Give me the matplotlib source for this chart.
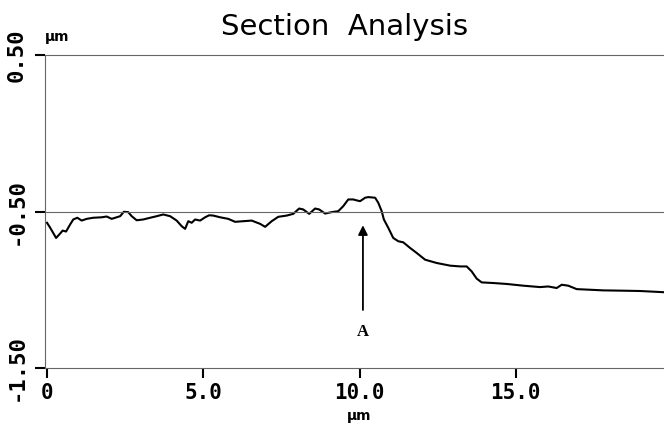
import matplotlib
matplotlib.use("Agg")
import matplotlib.pyplot as plt

# Section profile (x in um, height in um)
profile_x = [0.00, 0.10, 0.29, 0.42, 0.50, 0.61, 0.74, 0.84, 0.97, 1.11,
             1.27, 1.48, 1.75, 1.91, 2.07, 2.34, 2.46, 2.60, 2.71, 2.87,
             3.08, 3.30, 3.51, 3.72, 3.94, 4.15, 4.31, 4.42, 4.52, 4.63,
             4.74, 4.90, 5.06, 5.19, 5.32, 5.54, 5.80, 6.02, 6.28, 6.55,
             6.82, 6.98, 7.19, 7.40, 7.67, 7.88, 8.07, 8.20, 8.39, 8.58,
             8.71, 8.90, 9.11, 9.32, 9.48, 9.64, 9.80, 9.91, 10.02, 10.18,
             10.28, 10.50, 10.60, 10.71, 10.78, 10.92, 11.08, 11.24, 11.40, 11.62,
             11.83, 12.10, 12.47, 12.90, 13.22, 13.43, 13.59, 13.75, 13.91, 14.28,
             14.71, 15.24, 15.78, 16.04, 16.31, 16.47, 16.68, 16.95, 17.38, 17.80,
             18.44, 18.98, 19.67, 19.75]
profile_y = [-0.572, -0.603, -0.669, -0.641, -0.622, -0.628, -0.583, -0.551, -0.540, -0.558,
             -0.547, -0.540, -0.537, -0.532, -0.547, -0.530, -0.502, -0.504, -0.530, -0.556,
             -0.551, -0.540, -0.530, -0.519, -0.530, -0.558, -0.594, -0.611, -0.562, -0.572,
             -0.551, -0.558, -0.537, -0.524, -0.526, -0.537, -0.547, -0.566, -0.562, -0.558,
             -0.579, -0.598, -0.562, -0.534, -0.526, -0.515, -0.481, -0.487, -0.515, -0.481,
             -0.487, -0.513, -0.504, -0.498, -0.466, -0.423, -0.423, -0.429, -0.434, -0.412,
             -0.408, -0.412, -0.444, -0.498, -0.551, -0.604, -0.669, -0.690, -0.697, -0.733,
             -0.765, -0.808, -0.829, -0.846, -0.851, -0.851, -0.883, -0.929, -0.953, -0.957,
             -0.963, -0.974, -0.983, -0.979, -0.989, -0.968, -0.974, -0.996, -1.000, -1.004,
             -1.006, -1.008, -1.015, -1.016]

# axis ticks
x_ticks = [0, 5, 10, 15]
x_labels = ['0', '5.0', '10.0', '15.0']
y_ticks = [0.5, -0.5, -1.5]
y_labels = ['0.50', '-0.50', '-1.50']

# marker "A"
mark_x = 10.11
mark_tail = -1.147
mark_head = -0.57

W, H = 664, 426
fig = plt.figure(figsize=(W / 100, H / 100), dpi=100)
ax = fig.add_axes([45 / W, 1 - 368 / H, (W - 45) / W, 313 / H])

ax.plot(profile_x, profile_y, color='black', lw=1.5, solid_joinstyle='round')

ax.set_xlim(-0.064, 19.744)
ax.set_ylim(-1.5, 0.5)

# grey frame lines like the scanned print
for side in ['top', 'bottom', 'left']:
    ax.spines[side].set_color('#666666')
    ax.spines[side].set_linewidth(0.8)
ax.spines['right'].set_visible(False)
ax.axhline(-0.5, color='#666666', lw=0.8)

ax.set_xticks(x_ticks)
ax.set_xticklabels(x_labels, family='DejaVu Sans Mono', fontweight='bold', fontsize=15)
ax.set_yticks(y_ticks)
ax.set_yticklabels(y_labels, family='DejaVu Sans Mono', fontweight='bold', fontsize=16,
                   rotation=90, va='center')
ax.tick_params(axis='both', direction='out', length=7, width=1.5, color='black')
ax.tick_params(axis='x', pad=4)
ax.tick_params(axis='y', pad=6)

# arrow pointing at the edge
ax.annotate('', xy=(mark_x, mark_head), xytext=(mark_x, mark_tail),
            arrowprops=dict(arrowstyle='-|>', color='black', lw=1.3, mutation_scale=14))
ax.text(mark_x, -1.27, 'A', ha='center', va='center', family='Liberation Serif',
        fontweight='bold', fontsize=12)

fig.text(345 / W, 1 - 35 / H, 'Section  Analysis', ha='center', va='baseline', fontsize=21)
fig.text(57 / W, 1 - 37 / H, 'µm', ha='center', va='center', fontweight='bold', fontsize=10)
fig.text(359 / W, 1 - 416 / H, 'µm', ha='center', va='center', fontweight='bold', fontsize=10)

fig.savefig('out.png', dpi=100)
